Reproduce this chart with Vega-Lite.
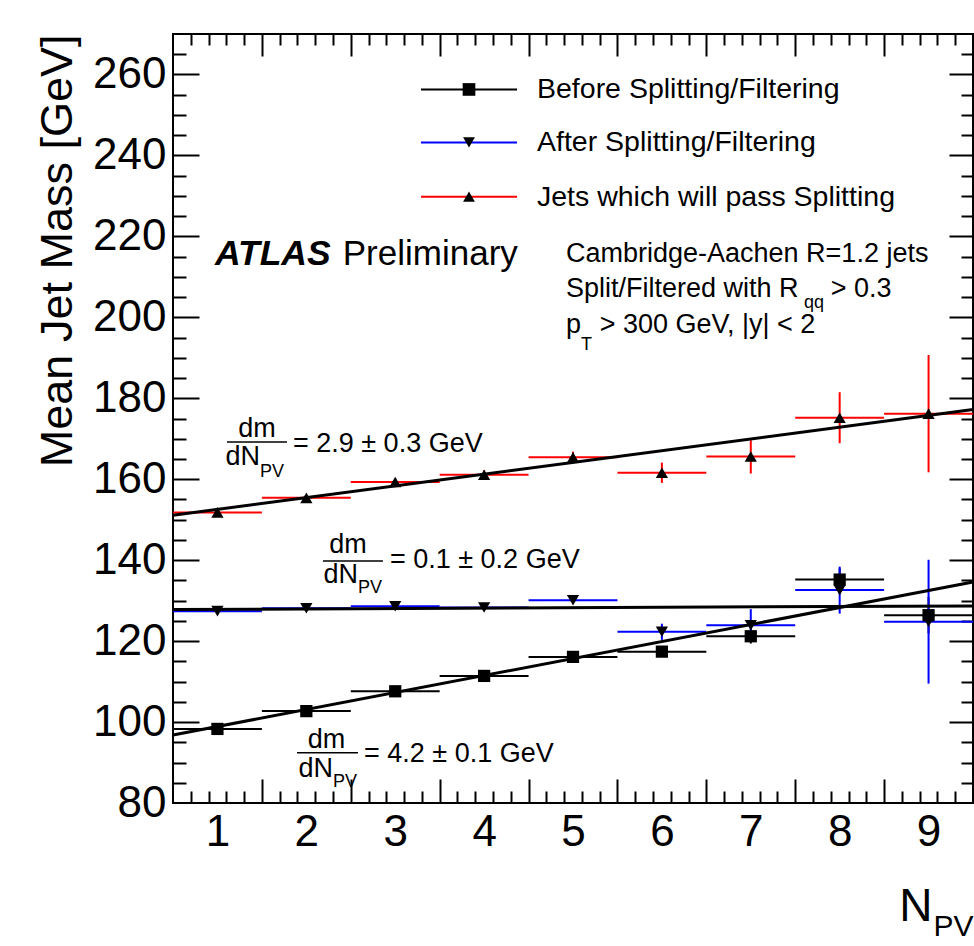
{
  "$schema": "https://vega.github.io/schema/vega-lite/v6.json",
  "width": 800,
  "height": 769,
  "autosize": {"type": "none"},
  "padding": {"left": 173, "top": 34, "right": 1, "bottom": 143},
  "background": "white",
  "datasets": {
    "bins": [
      {"series": "Before Splitting/Filtering", "n": 1, "n_lo": 0.5, "n_hi": 1.5, "mass": 98.3, "err": 0.5},
      {"series": "Before Splitting/Filtering", "n": 2, "n_lo": 1.5, "n_hi": 2.5, "mass": 102.7, "err": 0.5},
      {"series": "Before Splitting/Filtering", "n": 3, "n_lo": 2.5, "n_hi": 3.5, "mass": 107.6, "err": 0.6},
      {"series": "Before Splitting/Filtering", "n": 4, "n_lo": 3.5, "n_hi": 4.5, "mass": 111.4, "err": 0.7},
      {"series": "Before Splitting/Filtering", "n": 5, "n_lo": 4.5, "n_hi": 5.5, "mass": 116.1, "err": 0.9},
      {"series": "Before Splitting/Filtering", "n": 6, "n_lo": 5.5, "n_hi": 6.5, "mass": 117.4, "err": 1.2},
      {"series": "Before Splitting/Filtering", "n": 7, "n_lo": 6.5, "n_hi": 7.5, "mass": 121.2, "err": 1.8},
      {"series": "Before Splitting/Filtering", "n": 8, "n_lo": 7.5, "n_hi": 8.5, "mass": 135.2, "err": 2.8},
      {"series": "Before Splitting/Filtering", "n": 9, "n_lo": 8.5, "n_hi": 9.5, "mass": 126.4, "err": 4.5},
      {"series": "After Splitting/Filtering", "n": 1, "n_lo": 0.5, "n_hi": 1.5, "mass": 127.4, "err": 0.4},
      {"series": "After Splitting/Filtering", "n": 2, "n_lo": 1.5, "n_hi": 2.5, "mass": 128.1, "err": 0.4},
      {"series": "After Splitting/Filtering", "n": 3, "n_lo": 2.5, "n_hi": 3.5, "mass": 128.6, "err": 0.5},
      {"series": "After Splitting/Filtering", "n": 4, "n_lo": 3.5, "n_hi": 4.5, "mass": 128.3, "err": 0.6},
      {"series": "After Splitting/Filtering", "n": 5, "n_lo": 4.5, "n_hi": 5.5, "mass": 130.1, "err": 0.9},
      {"series": "After Splitting/Filtering", "n": 6, "n_lo": 5.5, "n_hi": 6.5, "mass": 122.3, "err": 2.0},
      {"series": "After Splitting/Filtering", "n": 7, "n_lo": 6.5, "n_hi": 7.5, "mass": 123.9, "err": 4.0},
      {"series": "After Splitting/Filtering", "n": 8, "n_lo": 7.5, "n_hi": 8.5, "mass": 132.6, "err": 5.8},
      {"series": "After Splitting/Filtering", "n": 9, "n_lo": 8.5, "n_hi": 9.5, "mass": 124.8, "err": 15.3},
      {"series": "Jets which will pass Splitting", "n": 1, "n_lo": 0.5, "n_hi": 1.5, "mass": 151.8, "err": 0.6},
      {"series": "Jets which will pass Splitting", "n": 2, "n_lo": 1.5, "n_hi": 2.5, "mass": 155.4, "err": 0.7},
      {"series": "Jets which will pass Splitting", "n": 3, "n_lo": 2.5, "n_hi": 3.5, "mass": 159.3, "err": 0.9},
      {"series": "Jets which will pass Splitting", "n": 4, "n_lo": 3.5, "n_hi": 4.5, "mass": 161.1, "err": 1.1},
      {"series": "Jets which will pass Splitting", "n": 5, "n_lo": 4.5, "n_hi": 5.5, "mass": 165.4, "err": 1.4},
      {"series": "Jets which will pass Splitting", "n": 6, "n_lo": 5.5, "n_hi": 6.5, "mass": 161.6, "err": 2.5},
      {"series": "Jets which will pass Splitting", "n": 7, "n_lo": 6.5, "n_hi": 7.5, "mass": 165.6, "err": 4.2},
      {"series": "Jets which will pass Splitting", "n": 8, "n_lo": 7.5, "n_hi": 8.5, "mass": 175.2, "err": 6.3},
      {"series": "Jets which will pass Splitting", "n": 9, "n_lo": 8.5, "n_hi": 9.5, "mass": 176.2, "err": 14.5}
    ],
    "fits": [
      {"fit": "Before Splitting/Filtering", "n0": 0.5, "n1": 9.5, "m0": 96.8, "m1": 134.6},
      {"fit": "After Splitting/Filtering", "n0": 0.5, "n1": 9.5, "m0": 127.8, "m1": 128.7},
      {"fit": "Jets which will pass Splitting", "n0": 0.5, "n1": 9.5, "m0": 151.1, "m1": 177.2}
    ]
  },
  "resolve": {"axis": {"x": "independent", "y": "independent"}},
  "config": {
    "view": {"stroke": "#000", "strokeWidth": 2},
    "axis": {
      "domain": false, "grid": false,
      "tickColor": "#000", "tickWidth": 2,
      "labelColor": "#000", "labelFont": "Liberation Sans",
      "titleFont": "Liberation Sans", "titleFontWeight": "normal", "titleColor": "#000",
      "labelOverlap": false, "labelFlush": false
    }
  },
  "layer": [
    {
      "data": {"name": "bins"},
      "mark": {"type": "rule", "strokeWidth": 2},
      "encoding": {
        "x": {"field": "n_lo", "type": "quantitative", "scale": {"domain": [0.5, 9.5], "nice": false, "zero": false},
          "axis": {"orient": "bottom", "values": [1.5, 2.5, 3.5, 4.5, 5.5, 6.5, 7.5, 8.5], "labels": false, "tickSize": -24, "title": null}},
        "x2": {"field": "n_hi"},
        "y": {"field": "mass", "type": "quantitative", "scale": {"domain": [80, 270], "nice": false, "zero": false},
          "axis": {"orient": "left", "values": [100, 120, 140, 160, 180, 200, 220, 240, 260], "labels": false, "tickSize": -26, "title": null}},
        "color": {"field": "series", "type": "nominal", "legend": null,
          "scale": {"domain": ["Before Splitting/Filtering", "After Splitting/Filtering", "Jets which will pass Splitting"], "range": ["#000000", "#0000ff", "#ff0000"]}}
      }
    },
    {
      "data": {"name": "bins"},
      "mark": {"type": "errorbar", "ticks": false, "thickness": 2},
      "encoding": {
        "x": {"field": "n", "type": "quantitative", "scale": {"domain": [0.5, 9.5], "nice": false, "zero": false}, "axis": null},
        "y": {"field": "mass", "type": "quantitative", "scale": {"domain": [80, 270], "nice": false, "zero": false}, "axis": null},
        "yError": {"field": "err"},
        "color": {"field": "series", "type": "nominal", "legend": null,
          "scale": {"domain": ["Before Splitting/Filtering", "After Splitting/Filtering", "Jets which will pass Splitting"], "range": ["#000000", "#0000ff", "#ff0000"]}}
      }
    },
    {
      "data": {"name": "fits"},
      "mark": {"type": "rule", "strokeWidth": 3, "color": "#000"},
      "encoding": {
        "x": {"field": "n0", "type": "quantitative", "scale": {"domain": [0.5, 9.5], "nice": false, "zero": false},
          "axis": {"orient": "bottom", "values": [1, 2, 3, 4, 5, 6, 7, 8, 9], "ticks": false, "labelFontSize": 44, "labelPadding": 7,
            "title": "N", "titleFontSize": 46, "titleX": 759, "titleY": 117, "titleAlign": "right", "titleBaseline": "alphabetic", "titleAngle": 0}},
        "x2": {"field": "n1"},
        "y": {"field": "m0", "type": "quantitative", "scale": {"domain": [80, 270], "nice": false, "zero": false},
          "axis": {"orient": "left", "values": [80, 100, 120, 140, 160, 180, 200, 220, 240, 260], "ticks": false, "labelFontSize": 44, "labelPadding": 7,
            "title": "Mean Jet Mass [GeV]", "titleFontSize": 45, "titleAngle": -90, "titleX": -102, "titleY": 0, "titleAlign": "right", "titleBaseline": "alphabetic"}},
        "y2": {"field": "m1"}
      }
    },
    {
      "data": {"name": "bins"},
      "mark": {"type": "point", "filled": true, "opacity": 1, "size": 150, "color": "#000"},
      "encoding": {
        "x": {"field": "n", "type": "quantitative", "scale": {"domain": [0.5, 9.5], "nice": false, "zero": false},
          "axis": {"orient": "top", "labels": false, "tickSize": -11, "title": null,
            "values": [0.7, 0.9, 1.1, 1.3, 1.7, 1.9, 2.1, 2.3, 2.7, 2.9, 3.1, 3.3, 3.7, 3.9, 4.1, 4.3, 4.7, 4.9, 5.1, 5.3, 5.7, 5.9, 6.1, 6.3, 6.7, 6.9, 7.1, 7.3, 7.7, 7.9, 8.1, 8.3, 8.7, 8.9, 9.1, 9.3]}},
        "y": {"field": "mass", "type": "quantitative", "scale": {"domain": [80, 270], "nice": false, "zero": false},
          "axis": {"orient": "right", "labels": false, "tickSize": -12, "title": null,
            "values": [85, 90, 95, 105, 110, 115, 125, 130, 135, 145, 150, 155, 165, 170, 175, 185, 190, 195, 205, 210, 215, 225, 230, 235, 245, 250, 255, 265]}},
        "shape": {"field": "series", "type": "nominal", "legend": null,
          "scale": {"domain": ["Before Splitting/Filtering", "After Splitting/Filtering", "Jets which will pass Splitting"], "range": ["square", "triangle-down", "triangle-up"]}}
      }
    },
    {
      "data": {"values": [{}]},
      "mark": {"type": "rule", "strokeWidth": 2, "color": "#000000"},
      "encoding": {
        "x": {"datum": 3.29, "type": "quantitative", "scale": {"domain": [0.5, 9.5], "nice": false, "zero": false},
          "axis": {"orient": "bottom", "labels": false, "tickSize": -12, "title": null,
            "values": [0.7, 0.9, 1.1, 1.3, 1.7, 1.9, 2.1, 2.3, 2.7, 2.9, 3.1, 3.3, 3.7, 3.9, 4.1, 4.3, 4.7, 4.9, 5.1, 5.3, 5.7, 5.9, 6.1, 6.3, 6.7, 6.9, 7.1, 7.3, 7.7, 7.9, 8.1, 8.3, 8.7, 8.9, 9.1, 9.3]}},
        "x2": {"datum": 4.37},
        "y": {"datum": 256.3, "type": "quantitative", "scale": {"domain": [80, 270], "nice": false, "zero": false},
          "axis": {"orient": "left", "labels": false, "tickSize": -13, "title": null,
            "values": [85, 90, 95, 105, 110, 115, 125, 130, 135, 145, 150, 155, 165, 170, 175, 185, 190, 195, 205, 210, 215, 225, 230, 235, 245, 250, 255, 265]}}
      }
    },
    {
      "data": {"values": [{}]},
      "mark": {"type": "rule", "strokeWidth": 2, "color": "#0000ff"},
      "encoding": {
        "x": {"datum": 3.29, "type": "quantitative", "scale": {"domain": [0.5, 9.5], "nice": false, "zero": false},
          "axis": {"orient": "top", "values": [1.5, 2.5, 3.5, 4.5, 5.5, 6.5, 7.5, 8.5], "labels": false, "tickSize": -22, "title": null}},
        "x2": {"datum": 4.37},
        "y": {"datum": 243.2, "type": "quantitative", "scale": {"domain": [80, 270], "nice": false, "zero": false},
          "axis": {"orient": "right", "values": [100, 120, 140, 160, 180, 200, 220, 240, 260], "labels": false, "tickSize": -24, "title": null}}
      }
    },
    {
      "data": {"values": [{}]},
      "mark": {"type": "rule", "strokeWidth": 2, "color": "#ff0000"},
      "encoding": {
        "x": {"datum": 3.29, "type": "quantitative", "scale": {"domain": [0.5, 9.5], "nice": false, "zero": false},
          "axis": {"orient": "bottom", "labels": false, "ticks": false, "values": [],
            "title": "PV", "titleFontSize": 30, "titleX": 760, "titleY": 132, "titleAlign": "left", "titleBaseline": "alphabetic", "titleAngle": 0}},
        "x2": {"datum": 4.37},
        "y": {"datum": 229.8, "type": "quantitative", "scale": {"domain": [80, 270], "nice": false, "zero": false}, "axis": null}
      }
    },
    {
      "data": {"values": [{}]},
      "mark": {"type": "point", "filled": true, "opacity": 1, "size": 160, "shape": "square", "color": "#000"},
      "encoding": {
        "x": {"datum": 3.83, "type": "quantitative", "scale": {"domain": [0.5, 9.5], "nice": false, "zero": false}, "axis": null},
        "y": {"datum": 256.3, "type": "quantitative", "scale": {"domain": [80, 270], "nice": false, "zero": false}, "axis": null}
      }
    },
    {
      "data": {"values": [{}]},
      "mark": {"type": "point", "filled": true, "opacity": 1, "size": 140, "shape": "triangle-down", "color": "#000"},
      "encoding": {
        "x": {"datum": 3.83, "type": "quantitative", "scale": {"domain": [0.5, 9.5], "nice": false, "zero": false}, "axis": null},
        "y": {"datum": 243.2, "type": "quantitative", "scale": {"domain": [80, 270], "nice": false, "zero": false}, "axis": null}
      }
    },
    {
      "data": {"values": [{}]},
      "mark": {"type": "point", "filled": true, "opacity": 1, "size": 140, "shape": "triangle-up", "color": "#000"},
      "encoding": {
        "x": {"datum": 3.83, "type": "quantitative", "scale": {"domain": [0.5, 9.5], "nice": false, "zero": false}, "axis": null},
        "y": {"datum": 229.8, "type": "quantitative", "scale": {"domain": [80, 270], "nice": false, "zero": false}, "axis": null}
      }
    },
    {
      "data": {"values": [{}]},
      "mark": {"type": "text", "text": "Before Splitting/Filtering", "font": "Liberation Sans", "fontSize": 28.5, "align": "left", "baseline": "alphabetic", "color": "#000"},
      "encoding": {
        "x": {"datum": 4.595, "type": "quantitative", "scale": {"domain": [0.5, 9.5], "nice": false, "zero": false}, "axis": null},
        "y": {"datum": 254.1, "type": "quantitative", "scale": {"domain": [80, 270], "nice": false, "zero": false}, "axis": null}
      }
    },
    {
      "data": {"values": [{}]},
      "mark": {"type": "text", "text": "After Splitting/Filtering", "font": "Liberation Sans", "fontSize": 28.5, "align": "left", "baseline": "alphabetic", "color": "#000"},
      "encoding": {
        "x": {"datum": 4.595, "type": "quantitative", "scale": {"domain": [0.5, 9.5], "nice": false, "zero": false}, "axis": null},
        "y": {"datum": 241.2, "type": "quantitative", "scale": {"domain": [80, 270], "nice": false, "zero": false}, "axis": null}
      }
    },
    {
      "data": {"values": [{}]},
      "mark": {"type": "text", "text": "Jets which will pass Splitting", "font": "Liberation Sans", "fontSize": 28.5, "align": "left", "baseline": "alphabetic", "color": "#000"},
      "encoding": {
        "x": {"datum": 4.595, "type": "quantitative", "scale": {"domain": [0.5, 9.5], "nice": false, "zero": false}, "axis": null},
        "y": {"datum": 227.4, "type": "quantitative", "scale": {"domain": [80, 270], "nice": false, "zero": false}, "axis": null}
      }
    },
    {
      "data": {"values": [{}]},
      "mark": {"type": "text", "text": "ATLAS", "font": "Liberation Sans", "fontSize": 35.5, "fontWeight": "bold", "fontStyle": "italic", "align": "left", "baseline": "alphabetic", "color": "#000"},
      "encoding": {
        "x": {"datum": 0.972, "type": "quantitative", "scale": {"domain": [0.5, 9.5], "nice": false, "zero": false}, "axis": null},
        "y": {"datum": 212.9, "type": "quantitative", "scale": {"domain": [80, 270], "nice": false, "zero": false}, "axis": null}
      }
    },
    {
      "data": {"values": [{}]},
      "mark": {"type": "text", "text": "Preliminary", "font": "Liberation Sans", "fontSize": 35, "align": "left", "baseline": "alphabetic", "color": "#000"},
      "encoding": {
        "x": {"datum": 2.41, "type": "quantitative", "scale": {"domain": [0.5, 9.5], "nice": false, "zero": false}, "axis": null},
        "y": {"datum": 212.9, "type": "quantitative", "scale": {"domain": [80, 270], "nice": false, "zero": false}, "axis": null}
      }
    },
    {
      "data": {"values": [{}]},
      "mark": {"type": "text", "text": "Cambridge-Aachen R=1.2 jets", "font": "Liberation Sans", "fontSize": 27, "align": "left", "baseline": "alphabetic", "color": "#000"},
      "encoding": {
        "x": {"datum": 4.921, "type": "quantitative", "scale": {"domain": [0.5, 9.5], "nice": false, "zero": false}, "axis": null},
        "y": {"datum": 213.75, "type": "quantitative", "scale": {"domain": [80, 270], "nice": false, "zero": false}, "axis": null}
      }
    },
    {
      "data": {"values": [{}]},
      "mark": {"type": "text", "text": "Split/Filtered with R", "font": "Liberation Sans", "fontSize": 27, "align": "left", "baseline": "alphabetic", "color": "#000"},
      "encoding": {
        "x": {"datum": 4.921, "type": "quantitative", "scale": {"domain": [0.5, 9.5], "nice": false, "zero": false}, "axis": null},
        "y": {"datum": 205.1, "type": "quantitative", "scale": {"domain": [80, 270], "nice": false, "zero": false}, "axis": null}
      }
    },
    {
      "data": {"values": [{}]},
      "mark": {"type": "text", "text": "qq", "font": "Liberation Sans", "fontSize": 18, "align": "left", "baseline": "alphabetic", "color": "#000"},
      "encoding": {
        "x": {"datum": 7.6, "type": "quantitative", "scale": {"domain": [0.5, 9.5], "nice": false, "zero": false}, "axis": null},
        "y": {"datum": 202.2, "type": "quantitative", "scale": {"domain": [80, 270], "nice": false, "zero": false}, "axis": null}
      }
    },
    {
      "data": {"values": [{}]},
      "mark": {"type": "text", "text": "> 0.3", "font": "Liberation Sans", "fontSize": 27, "align": "left", "baseline": "alphabetic", "color": "#000"},
      "encoding": {
        "x": {"datum": 7.9, "type": "quantitative", "scale": {"domain": [0.5, 9.5], "nice": false, "zero": false}, "axis": null},
        "y": {"datum": 205.1, "type": "quantitative", "scale": {"domain": [80, 270], "nice": false, "zero": false}, "axis": null}
      }
    },
    {
      "data": {"values": [{}]},
      "mark": {"type": "text", "text": "p", "font": "Liberation Sans", "fontSize": 27, "align": "left", "baseline": "alphabetic", "color": "#000"},
      "encoding": {
        "x": {"datum": 4.921, "type": "quantitative", "scale": {"domain": [0.5, 9.5], "nice": false, "zero": false}, "axis": null},
        "y": {"datum": 196.1, "type": "quantitative", "scale": {"domain": [80, 270], "nice": false, "zero": false}, "axis": null}
      }
    },
    {
      "data": {"values": [{}]},
      "mark": {"type": "text", "text": "T", "font": "Liberation Sans", "fontSize": 18, "align": "left", "baseline": "alphabetic", "color": "#000"},
      "encoding": {
        "x": {"datum": 5.09, "type": "quantitative", "scale": {"domain": [0.5, 9.5], "nice": false, "zero": false}, "axis": null},
        "y": {"datum": 191.9, "type": "quantitative", "scale": {"domain": [80, 270], "nice": false, "zero": false}, "axis": null}
      }
    },
    {
      "data": {"values": [{}]},
      "mark": {"type": "text", "text": "> 300 GeV, |y| < 2", "font": "Liberation Sans", "fontSize": 27, "align": "left", "baseline": "alphabetic", "color": "#000"},
      "encoding": {
        "x": {"datum": 5.3, "type": "quantitative", "scale": {"domain": [0.5, 9.5], "nice": false, "zero": false}, "axis": null},
        "y": {"datum": 196.1, "type": "quantitative", "scale": {"domain": [80, 270], "nice": false, "zero": false}, "axis": null}
      }
    },
    {
      "data": {"values": [{}]},
      "mark": {"type": "text", "text": "dm", "font": "Liberation Sans", "fontSize": 27, "align": "center", "baseline": "alphabetic", "color": "#000"},
      "encoding": {
        "x": {"datum": 1.445, "type": "quantitative", "scale": {"domain": [0.5, 9.5], "nice": false, "zero": false}, "axis": null},
        "y": {"datum": 170.4, "type": "quantitative", "scale": {"domain": [80, 270], "nice": false, "zero": false}, "axis": null}
      }
    },
    {
      "data": {"values": [{}]},
      "mark": {"type": "rule", "strokeWidth": 1.5, "color": "#000"},
      "encoding": {
        "x": {"datum": 1.107, "type": "quantitative", "scale": {"domain": [0.5, 9.5], "nice": false, "zero": false}, "axis": null},
        "x2": {"datum": 1.782},
        "y": {"datum": 169.2, "type": "quantitative", "scale": {"domain": [80, 270], "nice": false, "zero": false}, "axis": null}
      }
    },
    {
      "data": {"values": [{}]},
      "mark": {"type": "text", "text": "dN", "font": "Liberation Sans", "fontSize": 27, "align": "right", "baseline": "alphabetic", "color": "#000"},
      "encoding": {
        "x": {"datum": 1.479, "type": "quantitative", "scale": {"domain": [0.5, 9.5], "nice": false, "zero": false}, "axis": null},
        "y": {"datum": 163.5, "type": "quantitative", "scale": {"domain": [80, 270], "nice": false, "zero": false}, "axis": null}
      }
    },
    {
      "data": {"values": [{}]},
      "mark": {"type": "text", "text": "PV", "font": "Liberation Sans", "fontSize": 18, "align": "left", "baseline": "alphabetic", "color": "#000"},
      "encoding": {
        "x": {"datum": 1.479, "type": "quantitative", "scale": {"domain": [0.5, 9.5], "nice": false, "zero": false}, "axis": null},
        "y": {"datum": 160.5, "type": "quantitative", "scale": {"domain": [80, 270], "nice": false, "zero": false}, "axis": null}
      }
    },
    {
      "data": {"values": [{}]},
      "mark": {"type": "text", "text": "= 2.9 ± 0.3 GeV", "font": "Liberation Sans", "fontSize": 27, "align": "left", "baseline": "alphabetic", "color": "#000"},
      "encoding": {
        "x": {"datum": 1.85, "type": "quantitative", "scale": {"domain": [0.5, 9.5], "nice": false, "zero": false}, "axis": null},
        "y": {"datum": 166.7, "type": "quantitative", "scale": {"domain": [80, 270], "nice": false, "zero": false}, "axis": null}
      }
    },
    {
      "data": {"values": [{}]},
      "mark": {"type": "text", "text": "dm", "font": "Liberation Sans", "fontSize": 27, "align": "center", "baseline": "alphabetic", "color": "#000"},
      "encoding": {
        "x": {"datum": 2.469, "type": "quantitative", "scale": {"domain": [0.5, 9.5], "nice": false, "zero": false}, "axis": null},
        "y": {"datum": 141.8, "type": "quantitative", "scale": {"domain": [80, 270], "nice": false, "zero": false}, "axis": null}
      }
    },
    {
      "data": {"values": [{}]},
      "mark": {"type": "rule", "strokeWidth": 1.5, "color": "#000"},
      "encoding": {
        "x": {"datum": 2.187, "type": "quantitative", "scale": {"domain": [0.5, 9.5], "nice": false, "zero": false}, "axis": null},
        "x2": {"datum": 2.862},
        "y": {"datum": 139.8, "type": "quantitative", "scale": {"domain": [80, 270], "nice": false, "zero": false}, "axis": null}
      }
    },
    {
      "data": {"values": [{}]},
      "mark": {"type": "text", "text": "dN", "font": "Liberation Sans", "fontSize": 27, "align": "right", "baseline": "alphabetic", "color": "#000"},
      "encoding": {
        "x": {"datum": 2.581, "type": "quantitative", "scale": {"domain": [0.5, 9.5], "nice": false, "zero": false}, "axis": null},
        "y": {"datum": 134.4, "type": "quantitative", "scale": {"domain": [80, 270], "nice": false, "zero": false}, "axis": null}
      }
    },
    {
      "data": {"values": [{}]},
      "mark": {"type": "text", "text": "PV", "font": "Liberation Sans", "fontSize": 18, "align": "left", "baseline": "alphabetic", "color": "#000"},
      "encoding": {
        "x": {"datum": 2.581, "type": "quantitative", "scale": {"domain": [0.5, 9.5], "nice": false, "zero": false}, "axis": null},
        "y": {"datum": 131.9, "type": "quantitative", "scale": {"domain": [80, 270], "nice": false, "zero": false}, "axis": null}
      }
    },
    {
      "data": {"values": [{}]},
      "mark": {"type": "text", "text": "= 0.1 ± 0.2 GeV", "font": "Liberation Sans", "fontSize": 27, "align": "left", "baseline": "alphabetic", "color": "#000"},
      "encoding": {
        "x": {"datum": 2.941, "type": "quantitative", "scale": {"domain": [0.5, 9.5], "nice": false, "zero": false}, "axis": null},
        "y": {"datum": 138.1, "type": "quantitative", "scale": {"domain": [80, 270], "nice": false, "zero": false}, "axis": null}
      }
    },
    {
      "data": {"values": [{}]},
      "mark": {"type": "text", "text": "dm", "font": "Liberation Sans", "fontSize": 27, "align": "center", "baseline": "alphabetic", "color": "#000"},
      "encoding": {
        "x": {"datum": 2.227, "type": "quantitative", "scale": {"domain": [0.5, 9.5], "nice": false, "zero": false}, "axis": null},
        "y": {"datum": 93.6, "type": "quantitative", "scale": {"domain": [80, 270], "nice": false, "zero": false}, "axis": null}
      }
    },
    {
      "data": {"values": [{}]},
      "mark": {"type": "rule", "strokeWidth": 1.5, "color": "#000"},
      "encoding": {
        "x": {"datum": 1.895, "type": "quantitative", "scale": {"domain": [0.5, 9.5], "nice": false, "zero": false}, "axis": null},
        "x2": {"datum": 2.581},
        "y": {"datum": 92.4, "type": "quantitative", "scale": {"domain": [80, 270], "nice": false, "zero": false}, "axis": null}
      }
    },
    {
      "data": {"values": [{}]},
      "mark": {"type": "text", "text": "dN", "font": "Liberation Sans", "fontSize": 27, "align": "right", "baseline": "alphabetic", "color": "#000"},
      "encoding": {
        "x": {"datum": 2.3, "type": "quantitative", "scale": {"domain": [0.5, 9.5], "nice": false, "zero": false}, "axis": null},
        "y": {"datum": 86.5, "type": "quantitative", "scale": {"domain": [80, 270], "nice": false, "zero": false}, "axis": null}
      }
    },
    {
      "data": {"values": [{}]},
      "mark": {"type": "text", "text": "PV", "font": "Liberation Sans", "fontSize": 18, "align": "left", "baseline": "alphabetic", "color": "#000"},
      "encoding": {
        "x": {"datum": 2.3, "type": "quantitative", "scale": {"domain": [0.5, 9.5], "nice": false, "zero": false}, "axis": null},
        "y": {"datum": 84.0, "type": "quantitative", "scale": {"domain": [80, 270], "nice": false, "zero": false}, "axis": null}
      }
    },
    {
      "data": {"values": [{}]},
      "mark": {"type": "text", "text": "= 4.2 ± 0.1 GeV", "font": "Liberation Sans", "fontSize": 27, "align": "left", "baseline": "alphabetic", "color": "#000"},
      "encoding": {
        "x": {"datum": 2.649, "type": "quantitative", "scale": {"domain": [0.5, 9.5], "nice": false, "zero": false}, "axis": null},
        "y": {"datum": 90.2, "type": "quantitative", "scale": {"domain": [80, 270], "nice": false, "zero": false}, "axis": null}
      }
    }
  ]
}
